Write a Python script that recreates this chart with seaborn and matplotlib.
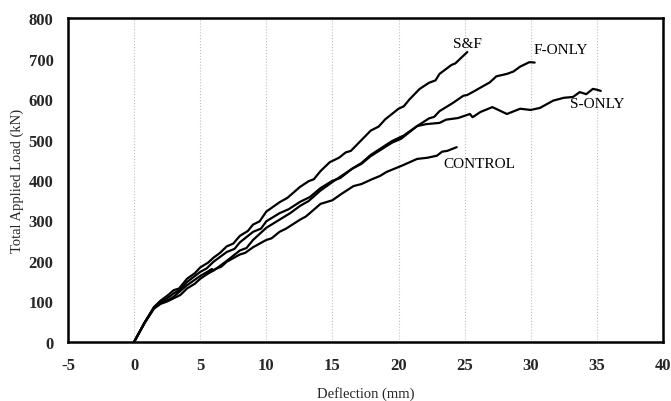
import numpy as np
import pandas as pd
import matplotlib
matplotlib.use("Agg")
import matplotlib.pyplot as plt
import seaborn as sns
from matplotlib.ticker import MultipleLocator

# data (deflection mm, load kN)
sf_x = [0, 0.8, 1.5, 2.0, 2.5, 3.0, 3.4, 3.6, 4.0, 4.6, 5.0, 5.6, 6.0, 6.5, 7.0, 7.5, 8.0, 8.6, 9.0,
        9.5, 10.0, 11.0, 11.6, 12.55, 13.2, 13.6, 14.1, 14.8, 15.5, 16.0, 16.4, 17.0, 17.9, 18.5,
        19.0, 20.0, 20.4, 20.8, 21.6, 22.3, 22.8, 23.1, 24.0, 24.3, 24.65, 25.2]
sf_y = [0, 48, 86, 102, 114, 128, 132, 140, 156, 170, 184, 196, 208, 220, 236, 243, 262, 274, 290,
        298, 322, 345, 356, 383, 397, 402, 422, 444, 455, 468, 472, 492, 522, 532,
        550, 576, 582, 598, 625, 640, 646, 662, 684, 688, 699, 716]

f_x = [0, 0.8, 1.5, 2.0, 2.5, 3.0, 3.5, 4.0, 5.0, 5.5, 6.0, 7.0, 7.6, 8.0, 9.0, 9.6, 10.0, 11.0,
       11.7, 12.55, 13.3, 14.1, 15.0, 15.6, 16.5, 17.2, 17.9, 19.5, 20.2, 21.4, 22.3, 22.7, 23.1,
       24.1, 24.9, 25.2, 25.6, 26.3, 26.9, 27.4, 28.2, 28.7, 29.2, 29.9, 30.3]
f_y = [0, 48, 85, 100, 108, 120, 130, 148, 173, 182, 198, 222, 230, 246, 272, 280, 298, 318,
       328, 346, 358, 380, 398, 405, 428, 440, 459, 492, 502, 533, 552, 556, 570,
       590, 608, 610, 617, 630, 641, 656, 662, 668, 680, 691, 690]

s_x = [0, 0.8, 1.5, 2.0, 2.6, 3.0, 4.0, 5.0, 5.9, 5.4, 6.0, 7.0, 8.0, 8.5, 9.0, 10.0, 11.0, 11.8,
       12.55, 13.2, 14.1, 15.0, 16.5, 17.2, 17.9, 19.5, 20.4, 21.4, 22.1, 23.1, 23.6, 24.5, 25.4,
       25.6, 26.2, 27.1, 28.2, 29.2, 30.0, 30.7, 31.7, 32.5, 33.2, 33.7, 34.2, 34.7, 35.0, 35.3]
s_y = [0, 48, 84, 98, 104, 112, 140, 163, 180, 167, 176, 200, 226, 232, 252, 282, 302, 318,
       336, 348, 374, 395, 428, 442, 462, 496, 510, 533, 538, 541, 549, 553, 563,
       555, 568, 580, 563, 576, 573, 578, 596, 603, 605, 617, 612, 625, 623, 620]

c_x = [0, 0.8, 1.5, 2.0, 2.5, 3.0, 3.5, 4.0, 4.6, 5.0, 6.0, 6.6, 7.0, 8.0, 8.4, 9.0, 10.0, 10.4,
       11.0, 11.5, 12.55, 13.0, 14.1, 15.0, 15.7, 16.6, 17.2, 18.0, 18.6, 19.1, 20.3, 21.4, 22.2,
       22.9, 23.3, 23.7, 24.0, 24.4]
c_y = [0, 47, 82, 94, 100, 108, 116, 132, 144, 156, 178, 186, 198, 216, 220, 234, 252, 256,
       272, 280, 302, 310, 341, 350, 366, 385, 390, 402, 410, 420, 436, 452, 455,
       460, 470, 472, 476, 481]

series = {"S&F": (sf_x, sf_y), "F-ONLY": (f_x, f_y), "S-ONLY": (s_x, s_y), "CONTROL": (c_x, c_y)}

# label positions (data coords)
label_names = ["S&F", "F-ONLY", "S-ONLY", "CONTROL"]
label_x = [24.1, 30.2, 33.0, 23.4]
label_y = [738, 722, 588, 440]

sns.set_style("white")
plt.rcParams["font.family"] = ["Liberation Serif", "DejaVu Serif"]
plt.rcParams["axes.unicode_minus"] = False

fig = plt.figure(figsize=(6.71, 4.02), dpi=100)
ax = fig.add_axes([0.1013, 0.1468, 0.8867, 0.8059])

for name, (xs, ys) in series.items():
    sns.lineplot(x=xs, y=ys, sort=False, estimator=None, color="black", linewidth=1.6, ax=ax)

for n, lx, ly in zip(label_names, label_x, label_y):
    ax.text(lx, ly, n, fontsize=11, va="center", ha="left", color="black")

ax.set_xlim(-5, 40)
ax.set_ylim(0, 800)
ax.xaxis.set_major_locator(MultipleLocator(5))
ax.xaxis.set_minor_locator(MultipleLocator(1))
ax.yaxis.set_major_locator(MultipleLocator(100))
ax.yaxis.set_minor_locator(MultipleLocator(20))
ax.tick_params(which="major", direction="inout", length=7, width=1.3, labelsize=12, pad=7)
ax.tick_params(which="minor", direction="in", length=3, width=1.0)
for lab in ax.get_xticklabels() + ax.get_yticklabels():
    lab.set_fontweight("bold")

ax.grid(axis="x", which="major", linestyle=":", color="#c0c0c0", linewidth=0.8)
for sp in ax.spines.values():
    sp.set_linewidth(1.8)
    sp.set_color("black")

ax.set_xlabel("Deflection (mm)", fontsize=10.5, labelpad=10)
ax.set_ylabel("Total Applied Load (kN)", fontsize=10.5, labelpad=3)

fig.savefig("out.png", dpi=100)
